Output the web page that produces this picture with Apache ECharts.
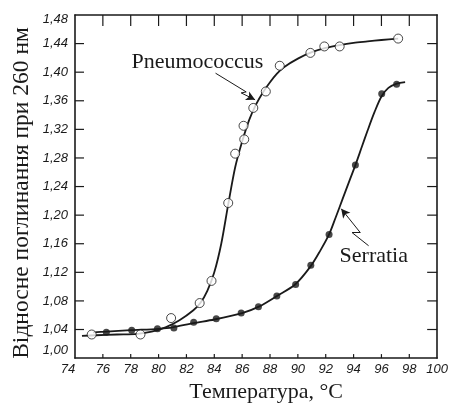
<!DOCTYPE html>
<html><head><meta charset="utf-8">
<script src="https://cdn.jsdelivr.net/npm/echarts@6/dist/echarts.min.js"></script>
<style>html,body{margin:0;padding:0;background:#fff}#c{width:451px;height:408px}</style>
</head><body><div id="c"></div>
<script>
// Measured points (open circles): Pneumococcus
const pneumoX = [75.2, 78.7, 80.9, 82.95, 83.8, 85.0, 85.5, 86.15, 86.1, 86.8, 87.7, 88.7, 90.9, 91.9, 93.0, 97.2];
const pneumoY = [1.033, 1.033, 1.056, 1.077, 1.108, 1.217, 1.286, 1.306, 1.325, 1.350, 1.373, 1.409, 1.427, 1.436, 1.436, 1.447];
// Measured points (filled dots): Serratia
const serrX = [76.25, 78.07, 79.92, 81.1, 82.52, 84.14, 85.93, 87.17, 88.49, 89.84, 90.93, 92.24, 94.13, 96.02, 97.09];
const serrY = [1.036, 1.039, 1.041, 1.042, 1.050, 1.055, 1.063, 1.072, 1.087, 1.103, 1.130, 1.173, 1.270, 1.370, 1.383];
// Drawn smooth curves
const pneumoCurveX = [74.5, 75.5, 77, 78.5, 79.5, 80.5, 81.5, 82.5, 83.0, 83.5, 84.0, 84.5, 85.0, 85.5, 86.0, 86.5, 87.0, 87.5, 88.0, 88.5, 89.0, 90.0, 91.0, 92.0, 93.0, 94.0, 95.0, 96.0, 97.2];
const pneumoCurveY = [1.031, 1.032, 1.033, 1.034, 1.037, 1.043, 1.053, 1.067, 1.077, 1.094, 1.120, 1.160, 1.215, 1.267, 1.303, 1.333, 1.355, 1.372, 1.386, 1.398, 1.407, 1.419, 1.428, 1.434, 1.438, 1.441, 1.443, 1.445, 1.447];
const serrCurveX = [75.3, 76.25, 78, 80, 81, 82.5, 84, 86, 87.2, 88.5, 89.8, 90.9, 91.6, 92.24, 92.7, 93.2, 93.7, 94.13, 94.6, 95.0, 95.5, 96.0, 96.5, 97.1, 97.7];
const serrCurveY = [1.036, 1.037, 1.039, 1.041, 1.043, 1.049, 1.054, 1.063, 1.072, 1.087, 1.103, 1.128, 1.150, 1.173, 1.196, 1.222, 1.248, 1.270, 1.296, 1.318, 1.344, 1.366, 1.378, 1.384, 1.386];
// Axis ticks
const xMin = 74, xMax = 100, xStep = 2;
const yMin = 1.00, yMax = 1.48, yStep = 0.04;
const xTicks = [76, 78, 80, 82, 84, 86, 88, 90, 92, 94, 96, 98];
const yTicks = [1.04, 1.08, 1.12, 1.16, 1.20, 1.24, 1.28, 1.32, 1.36, 1.40, 1.44];
const xTitle = 'Температура, °C';
const yTitle = 'Відносне поглинання при 260 нм';

const zip = (a, b) => a.map((v, i) => [v, b[i]]);
const ink = '#1a1a1a';
const tickFont = {fontFamily: 'Liberation Sans', fontStyle: 'italic', fontSize: 13, color: ink};
const frame = {show: true, lineStyle: {color: ink, width: 1.6}};
const tickStyle = {stroke: ink, lineWidth: 1.2};

const chart = echarts.init(document.getElementById('c'), null, {renderer: 'canvas'});
chart.setOption({
  animation: false,
  backgroundColor: '#fff',
  grid: {left: 75, right: 10, top: 15, bottom: 45},
  graphic: [{
    type: 'text', x: 22, y: 193, rotation: Math.PI / 2, silent: true,
    style: {text: yTitle, fontFamily: 'Liberation Serif', fontSize: 23.5, fill: ink, align: 'center', verticalAlign: 'middle'}
  }],
  xAxis: [{
    type: 'value', min: xMin, max: xMax, interval: xStep,
    axisLine: frame, axisTick: {show: false}, splitLine: {show: false},
    axisLabel: Object.assign({}, tickFont, {margin: 5,
      formatter: v => v === xMin ? '{l|' + v + '}' : String(v),
      rich: {l: Object.assign({}, tickFont, {padding: [0, 14, 0, 0]})}}),
    name: xTitle, nameLocation: 'middle', nameGap: 16,
    nameTextStyle: {fontFamily: 'Liberation Serif', fontSize: 22, color: ink, padding: [0, 0, 0, 20]}
  }, {
    type: 'value', min: xMin, max: xMax, interval: xStep, position: 'top',
    axisLine: frame, axisTick: {show: false}, axisLabel: {show: false}, splitLine: {show: false}
  }],
  yAxis: [{
    type: 'value', min: yMin, max: yMax, interval: yStep,
    axisLine: frame, axisTick: {show: false}, splitLine: {show: false},
    axisLabel: Object.assign({}, tickFont, {margin: 7,
      formatter: v => {
        const s = v.toFixed(2).replace('.', ',');
        if (Math.abs(v - yMin) < 1e-9) return '{b|' + s + '}';
        if (Math.abs(v - yMax) < 1e-9) return '{t|' + s + '}';
        return s;
      },
      rich: {b: Object.assign({}, tickFont, {padding: [0, 0, 16, 0]}),
             t: Object.assign({}, tickFont, {padding: [8, 0, 0, 0]})}})
  }, {
    type: 'value', min: yMin, max: yMax, interval: yStep, position: 'right',
    axisLine: frame, axisTick: {show: false}, axisLabel: {show: false}, splitLine: {show: false}
  }],
  series: [
    {
      // tick marks on bottom (short) and top (long) edges, placed by the x scale
      type: 'custom', silent: true, clip: false, z: 1,
      data: xTicks.map(v => [v, yMin]),
      renderItem: (params, api) => {
        const v = api.value(0);
        const b = api.coord([v, yMin]);
        const t = api.coord([v, yMax]);
        return {type: 'group', children: [
          {type: 'line', shape: {x1: b[0], y1: b[1], x2: b[0], y2: b[1] - 4}, style: tickStyle},
          {type: 'line', shape: {x1: t[0], y1: t[1], x2: t[0], y2: t[1] + 11}, style: tickStyle}
        ]};
      }
    },
    {
      // tick marks on left and right edges, placed by the y scale
      type: 'custom', silent: true, clip: false, z: 1,
      data: yTicks.map(v => [xMin, v]),
      renderItem: (params, api) => {
        const v = api.value(1);
        const l = api.coord([xMin, v]);
        const r = api.coord([xMax, v]);
        return {type: 'group', children: [
          {type: 'line', shape: {x1: l[0], y1: l[1], x2: l[0] + 9, y2: l[1]}, style: tickStyle},
          {type: 'line', shape: {x1: r[0], y1: r[1], x2: r[0] - 10, y2: r[1]}, style: tickStyle}
        ]};
      }
    },
    {
      type: 'line', data: zip(pneumoCurveX, pneumoCurveY), smooth: 0.3, symbol: 'none',
      lineStyle: {color: ink, width: 1.8}, z: 2,
      markLine: {
        silent: true, symbol: ['none', 'none'], symbolSize: [7, 9],
        label: {show: false}, lineStyle: {color: ink, width: 1, type: 'solid'},
        data: [
          [{coord: [84.09, 1.3986]}, {coord: [86.29, 1.3724]}],
          [{coord: [86.29, 1.3724]}, {coord: [85.93, 1.371]}],
          [{coord: [85.93, 1.371], symbol: 'none'}, {coord: [86.93, 1.3614], symbol: 'arrow'}]
        ]
      },
      markPoint: {
        silent: true, symbol: 'circle', symbolSize: 0,
        label: {show: true, formatter: 'Pneumococcus', fontFamily: 'Liberation Serif', fontSize: 22, color: ink, position: 'inside'},
        data: [{coord: [82.79, 1.4138]}]
      }
    },
    {
      type: 'line', data: zip(serrCurveX, serrCurveY), smooth: 0.3, symbol: 'none',
      lineStyle: {color: ink, width: 1.8}, z: 2,
      markLine: {
        silent: true, symbol: ['none', 'none'], symbolSize: [7, 9],
        label: {show: false}, lineStyle: {color: ink, width: 1, type: 'solid'},
        data: [
          [{coord: [95.08, 1.1572]}, {coord: [93.89, 1.1756]}],
          [{coord: [93.89, 1.1756]}, {coord: [94.48, 1.1756]}],
          [{coord: [94.48, 1.1756], symbol: 'none'}, {coord: [93.11, 1.209], symbol: 'arrow'}]
        ]
      },
      markPoint: {
        silent: true, symbol: 'circle', symbolSize: 0,
        label: {show: true, formatter: 'Serratia', fontFamily: 'Liberation Serif', fontSize: 22, color: ink, position: 'inside'},
        data: [{coord: [95.45, 1.1428]}]
      }
    },
    {
      type: 'scatter', data: zip(pneumoX, pneumoY), symbol: 'circle', symbolSize: 9,
      itemStyle: {color: '#fff', borderColor: ink, borderWidth: 1}, z: 3
    },
    {
      type: 'scatter', data: zip(serrX, serrY), symbol: 'circle', symbolSize: 7,
      itemStyle: {color: ink}, z: 3
    }
  ]
});
</script></body></html>
